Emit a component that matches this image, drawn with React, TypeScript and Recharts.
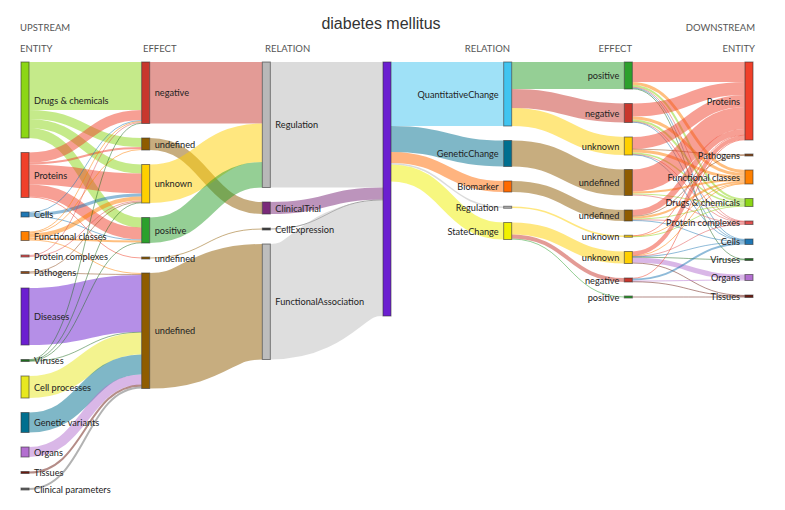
import React from "react";
import { Sankey } from "recharts";

const TITLE = "diabetes mellitus";

// columns, top to bottom
const UP_ENTITIES = [
  "Drugs & chemicals",
  "Proteins",
  "Cells",
  "Functional classes",
  "Protein complexes",
  "Pathogens",
  "Diseases",
  "Viruses",
  "Cell processes",
  "Genetic variants",
  "Organs",
  "Tissues",
  "Clinical parameters",
];
const UP_EFFECTS = ["negative", "undefined", "unknown", "positive", "undefined", "undefined"];
const UP_RELATIONS = ["Regulation", "ClinicalTrial", "CellExpression", "FunctionalAssociation"];
const DOWN_RELATIONS = ["QuantitativeChange", "GeneticChange", "Biomarker", "Regulation", "StateChange"];
const DOWN_EFFECTS = [
  "positive",
  "negative",
  "unknown",
  "undefined",
  "undefined",
  "unknown",
  "unknown",
  "negative",
  "positive",
];
const DOWN_ENTITIES = [
  "Proteins",
  "Pathogens",
  "Functional classes",
  "Drugs & chemicals",
  "Protein complexes",
  "Cells",
  "Viruses",
  "Organs",
  "Tissues",
];

// rows: UP_ENTITIES, cols: UP_EFFECTS
const UP_ENTITY_EFFECT = [
  [48, 9, 9, 10, 0, 0],
  [10, 2, 20, 12, 1, 0],
  [1, 0, 3, 1, 0, 0],
  [1, 1, 4, 2, 0, 1],
  [1, 0, 1, 0, 0, 0],
  [0, 0, 1, 0, 0, 1],
  [0, 0, 0, 0, 0, 57],
  [0.5, 0, 0.5, 0.5, 0, 0.5],
  [0, 0, 0, 0, 0, 22],
  [0, 0, 0, 0, 0, 20],
  [0, 0, 0, 0, 0, 10],
  [0, 0, 0, 0, 0, 2],
  [0, 0, 0, 0, 0, 2],
];
// rows: UP_EFFECTS, cols: UP_RELATIONS
const UP_EFFECT_RELATION = [
  [61.5, 0, 0, 0],
  [0, 12, 0, 0],
  [38.5, 0, 0, 0],
  [25.5, 0, 0, 0],
  [0, 0, 1, 0],
  [0, 0, 0, 115.5],
];
const UP_RELATION_CENTER = [125.5, 12, 1, 115.5];
const CENTER_DOWN_RELATION = [64, 26, 11, 1.5, 17];
// rows: DOWN_RELATIONS, cols: DOWN_EFFECTS
const DOWN_RELATION_EFFECT = [
  [27, 19, 18, 0, 0, 0, 0, 0, 0],
  [0, 0, 0, 26, 0, 0, 0, 0, 0],
  [0, 0, 0, 0, 11, 0, 0, 0, 0],
  [0, 0, 0, 0, 0, 1.5, 0, 0, 0],
  [0, 0, 0, 0, 0, 0, 12, 4, 1],
];
// rows: DOWN_EFFECTS, cols: DOWN_ENTITIES
const DOWN_EFFECT_ENTITY = [
  [20, 0, 3, 2, 0.5, 1, 0.5, 0, 0],
  [13, 0, 3, 2, 0.5, 0.5, 0, 0, 0],
  [12, 0.5, 3, 1.5, 0.5, 0.5, 0, 0, 0],
  [22, 0, 2, 1, 1, 0, 0, 0, 0],
  [6, 0.5, 2, 1, 0.5, 1, 0, 0, 0],
  [0.5, 0, 0.5, 0.5, 0, 0, 0, 0, 0],
  [4, 0, 0.5, 0, 0.5, 0.5, 0.5, 5, 1],
  [0.5, 0, 0, 0, 0, 2, 0, 1, 0.5],
  [0, 0, 0, 0, 0, 0, 0, 0, 1],
];

const COLORS: Record<string, string> = {
  "Drugs & chemicals": "#8cd615",
  Proteins: "#f0402a",
  Cells: "#1f77b4",
  "Functional classes": "#ff8000",
  "Protein complexes": "#e05050",
  Pathogens: "#8b4a1a",
  Diseases: "#6b1fd0",
  Viruses: "#1f6b1f",
  "Cell processes": "#e8e820",
  "Genetic variants": "#006f8f",
  Organs: "#b36fd0",
  Tissues: "#6a1a10",
  "Clinical parameters": "#666666",
  negative: "#c8372d",
  undefined: "#8f5c00",
  unknown: "#ffd000",
  positive: "#2ca02c",
  Regulation: "#b8b8b8",
  ClinicalTrial: "#7a2a7a",
  CellExpression: "#444444",
  FunctionalAssociation: "#bdbdbd",
  [TITLE]: "#6b1fd0",
  QuantitativeChange: "#40c4f0",
  GeneticChange: "#006f8f",
  Biomarker: "#ff6a00",
  StateChange: "#f0f000",
};

const columns = [
  { names: UP_ENTITIES, side: "up" },
  { names: UP_EFFECTS, side: "up" },
  { names: UP_RELATIONS, side: "up" },
  { names: [TITLE], side: "center" },
  { names: DOWN_RELATIONS, side: "down" },
  { names: DOWN_EFFECTS, side: "down" },
  { names: DOWN_ENTITIES, side: "down" },
];

const nodes: any[] = [];
const starts: number[] = [];
columns.forEach((c) => {
  starts.push(nodes.length);
  c.names.forEach((name) => nodes.push({ name, side: c.side }));
});

const links: any[] = [];
function addMatrix(m: number[][], a: number, b: number) {
  m.forEach((row, i) =>
    row.forEach((v, j) => {
      if (v > 0) links.push({ source: starts[a] + i, target: starts[b] + j, value: v });
    })
  );
}
addMatrix(UP_ENTITY_EFFECT, 0, 1);
addMatrix(UP_EFFECT_RELATION, 1, 2);
addMatrix(UP_RELATION_CENTER.map((v) => [v]), 2, 3);
addMatrix([CENTER_DOWN_RELATION], 3, 4);
addMatrix(DOWN_RELATION_EFFECT, 4, 5);
addMatrix(DOWN_EFFECT_ENTITY, 5, 6);

const FONT = "Lato, 'Liberation Sans', sans-serif";

function SankeyNode(props: any) {
  const { x, y, width, height, payload } = props;
  const h = Math.max(height, 2);
  const cy = y + height / 2;
  const side = payload.side;
  return (
    <g>
      <rect
        x={x}
        y={cy - h / 2}
        width={width}
        height={h}
        fill={COLORS[payload.name] || "#999"}
        stroke="#333"
        strokeOpacity={0.6}
        strokeWidth={1}
      />
      {side !== "center" && (
        <text
          x={side === "up" ? x + width + 5 : x - 5}
          y={cy}
          textAnchor={side === "up" ? "start" : "end"}
          dominantBaseline="central"
          fontSize={9.2}
          fontFamily={FONT}
          fill="#222"
        >
          {payload.name}
        </text>
      )}
    </g>
  );
}

function SankeyLink(props: any) {
  const { sourceX, sourceY, sourceControlX, targetX, targetY, targetControlX, linkWidth, payload } = props;
  const n = payload.source.side === "up" ? payload.source : payload.target;
  return (
    <path
      d={`M${sourceX},${sourceY}C${sourceControlX},${sourceY} ${targetControlX},${targetY} ${targetX},${targetY}`}
      fill="none"
      stroke={COLORS[n.name] || "#ccc"}
      strokeOpacity={0.5}
      strokeWidth={Math.max(linkWidth, 1)}
    />
  );
}

const headStyle = { fontFamily: FONT, fontSize: 9.5, fill: "#555" };

export default function App() {
  return (
    <div style={{ position: "absolute", left: 0, top: 0, width: 785, height: 510, background: "#fff" }}>
      <Sankey
        width={785}
        height={510}
        data={{ nodes, links }}
        margin={{ top: 62, left: 21, right: 32, bottom: 20 }}
        nodeWidth={8}
        nodePadding={14.5}
        iterations={0}
        linkCurvature={0.5}
        node={<SankeyNode />}
        link={<SankeyLink />}
      />
      <svg width={785} height={60} style={{ position: "absolute", left: 0, top: 0, pointerEvents: "none" }}>
        <text x={381} y={29} textAnchor="middle" fontFamily="'Liberation Sans', sans-serif" fontSize={16} fill="#333">
          {TITLE}
        </text>
        <text x={20} y={31} {...headStyle}>UPSTREAM</text>
        <text x={755} y={31} textAnchor="end" {...headStyle}>DOWNSTREAM</text>
        <text x={20} y={52} {...headStyle}>ENTITY</text>
        <text x={143} y={52} {...headStyle}>EFFECT</text>
        <text x={265} y={52} {...headStyle}>RELATION</text>
        <text x={510} y={52} textAnchor="end" {...headStyle}>RELATION</text>
        <text x={632} y={52} textAnchor="end" {...headStyle}>EFFECT</text>
        <text x={755} y={52} textAnchor="end" {...headStyle}>ENTITY</text>
      </svg>
    </div>
  );
}
